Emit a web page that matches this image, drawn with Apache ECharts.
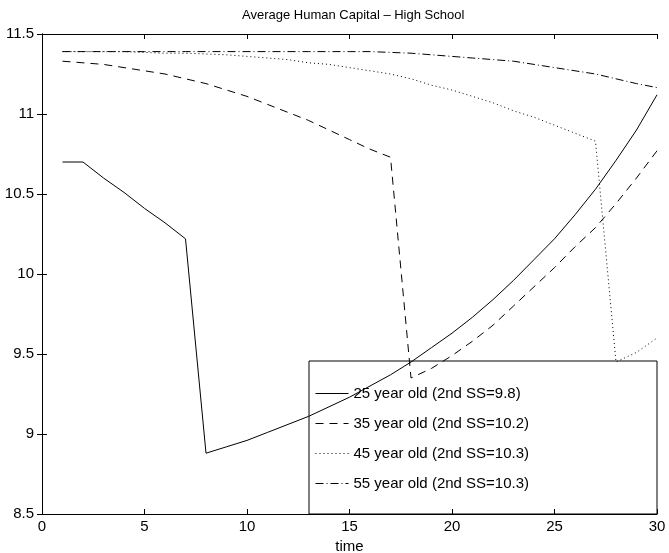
<!DOCTYPE html>
<html>
<head>
<meta charset="utf-8">
<script src="https://cdn.jsdelivr.net/npm/echarts@6/dist/echarts.min.js"></script>
<style>
  html, body { margin: 0; padding: 0; background: #fff; }
</style>
</head>
<body>
<div id="myChart" style="width:669px;height:553px;"></div>
<script>
// time periods 1..30
var years = [1,2,3,4,5,6,7,8,9,10,11,12,13,14,15,16,17,18,19,20,21,22,23,24,25,26,27,28,29,30]

var age25 = [10.70,10.70,10.60,10.51,10.41,10.32,10.22,8.88,8.92,8.96,9.01,9.06,9.11,9.17,9.23,
             9.30,9.37,9.45,9.54,9.63,9.73,9.84,9.96,10.09,10.22,10.37,10.53,10.71,10.90,11.12]
var age35 = [11.33,11.32,11.31,11.29,11.27,11.25,11.22,11.19,11.15,11.11,11.06,11.01,10.96,10.90,10.84,
             10.78,10.73,9.35,9.41,9.49,9.58,9.68,9.80,9.92,10.04,10.17,10.29,10.44,10.60,10.77]
var age45 = [11.39,11.39,11.39,11.39,11.385,11.38,11.38,11.375,11.37,11.36,11.35,11.34,11.32,11.31,11.29,
             11.27,11.25,11.22,11.18,11.15,11.11,11.07,11.02,10.98,10.93,10.88,10.83,9.45,9.51,9.60]
var age55 = [11.39,11.39,11.39,11.39,11.39,11.39,11.39,11.39,11.39,11.39,11.39,11.39,11.39,11.39,11.39,
             11.39,11.385,11.38,11.37,11.36,11.35,11.34,11.33,11.31,11.29,11.27,11.25,11.22,11.19,11.165]

var names = ['25 year old (2nd SS=9.8)', '35 year old (2nd SS=10.2)', '45 year old (2nd SS=10.3)', '55 year old (2nd SS=10.3)']

function pairs (vals) {
  return years.map(function (t, i) { return [t, vals[i]] })
}

var font = 'Liberation Sans, Arial, Helvetica, sans-serif'

function lineSeries (name, vals, dash) {
  return {
    name: name,
    type: 'line',
    data: pairs(vals),
    symbol: 'none',
    animation: false,
    lineStyle: { color: '#000', width: 1, type: dash },
    itemStyle: { color: '#000' }
  }
}

var myChart = echarts.init(document.getElementById('myChart'))
myChart.setOption({
  backgroundColor: '#fff',
  animation: false,
  title: {
    text: 'Average Human Capital \u2013 High School',
    left: 237,
    top: 4,
    textStyle: { fontFamily: font, fontSize: 13, fontWeight: 'normal', color: '#000' }
  },
  grid: { left: 42, right: 12, top: 34, bottom: 39, containLabel: false, outerBoundsMode: 'none' },
  legend: {
    orient: 'vertical',
    left: 315,
    top: 386,
    itemWidth: 33,
    itemHeight: 14,
    itemGap: 15,
    padding: 0,
    data: names,
    itemStyle: { opacity: 0 },
    lineStyle: { width: 1 },
    textStyle: { fontFamily: font, fontSize: 15, color: '#000' }
  },
  graphic: [{
    type: 'rect',
    shape: { x: 309, y: 361, width: 348, height: 153 },
    style: { fill: 'none', stroke: '#000', lineWidth: 1 },
    silent: true
  }],
  xAxis: [{
    type: 'value',
    min: 0,
    max: 30,
    interval: 5,
    name: 'time',
    nameLocation: 'middle',
    nameGap: 24,
    nameTextStyle: { fontFamily: font, fontSize: 15, color: '#000' },
    axisLine: { lineStyle: { color: '#000', width: 1 } },
    axisTick: { inside: true, length: 5, lineStyle: { color: '#000' } },
    axisLabel: { fontFamily: font, fontSize: 15, color: '#000', margin: 5 },
    splitLine: { show: false }
  }, {
    type: 'value',
    position: 'top',
    min: 0,
    max: 30,
    interval: 5,
    axisLine: { show: true, lineStyle: { color: '#000', width: 1 } },
    axisTick: { inside: true, length: 5, lineStyle: { color: '#000' } },
    axisLabel: { show: false },
    splitLine: { show: false }
  }],
  yAxis: [{
    type: 'value',
    min: 8.5,
    max: 11.5,
    interval: 0.5,
    axisLine: { show: true, lineStyle: { color: '#000', width: 1 } },
    axisTick: { show: true, inside: true, length: 5, lineStyle: { color: '#000' } },
    axisLabel: { fontFamily: font, fontSize: 15, color: '#000', margin: 8 },
    splitLine: { show: false }
  }, {
    type: 'value',
    position: 'right',
    min: 8.5,
    max: 11.5,
    interval: 0.5,
    axisLine: { show: true, lineStyle: { color: '#000', width: 1 } },
    axisTick: { show: true, inside: true, length: 5, lineStyle: { color: '#000' } },
    axisLabel: { show: false },
    splitLine: { show: false }
  }],
  series: [
    lineSeries(names[0], age25, 'solid'),
    lineSeries(names[1], age35, [8, 6]),
    lineSeries(names[2], age45, [1, 3]),
    lineSeries(names[3], age55, [8, 3, 1, 3])
  ]
})
</script>
</body>
</html>
